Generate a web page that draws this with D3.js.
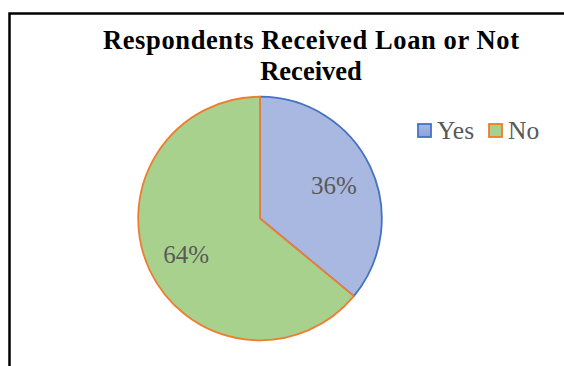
<!DOCTYPE html>
<html>
<head>
<meta charset="utf-8">
<script src="https://cdn.jsdelivr.net/npm/d3@7/dist/d3.min.js"></script>
<style>
  html, body { margin: 0; padding: 0; background: #fff; }
  svg { display: block; }
</style>
</head>
<body>
<script>
// Loan status of respondents
const categories = ["Yes", "No"];
const shares = [36, 64];
const fills = ["url(#yesGrad)", "#a9d18e"];
const strokes = ["#4472c4", "#ed7d31"];
const titleLines = ["Respondents Received Loan or Not", "Received"];

const W = 564, H = 366;
const serif = "'Liberation Serif', 'Times New Roman', serif";
const svg = d3.select("body").append("svg").attr("width", W).attr("height", H);

// gradient for the "Yes" slice
const defs = svg.append("defs");
const g1 = defs.append("linearGradient").attr("id", "yesGrad")
  .attr("gradientUnits", "userSpaceOnUse")
  .attr("x1", 0).attr("y1", 97).attr("x2", 0).attr("y2", 300);
g1.append("stop").attr("offset", "0%").attr("stop-color", "#a9b8e0");
g1.append("stop").attr("offset", "100%").attr("stop-color", "#8aa2d9");
const g2 = defs.append("linearGradient").attr("id", "yesGradLegend")
  .attr("x1", 0).attr("y1", 0).attr("x2", 0).attr("y2", 1);
g2.append("stop").attr("offset", "0%").attr("stop-color", "#a9b8e0");
g2.append("stop").attr("offset", "100%").attr("stop-color", "#8aa2d9");

// chart frame (extends past the right and bottom edges)
svg.append("rect")
  .attr("x", 9.5).attr("y", 13.5)
  .attr("width", 600).attr("height", 400)
  .attr("fill", "none").attr("stroke", "#000").attr("stroke-width", 2.5);

// title, two centred lines; the first is spread to the chart's title width
const titleX = 311;
const title = svg.append("g")
  .attr("font-family", serif)
  .attr("font-weight", "bold")
  .attr("font-size", 26.5)
  .attr("fill", "#000");
titleLines.forEach((t, i) => {
  const tx = title.append("text")
    .attr("x", titleX).attr("y", 49 + i * 31)
    .attr("text-anchor", "middle")
    .text(t);
  if (i === 0) tx.attr("textLength", 416).attr("lengthAdjust", "spacing");
});

// pie
const cx = 260, cy = 218.5, R = 121.8;
const pie = d3.pie().sort(null).value(d => d)(shares);
const arc = d3.arc().innerRadius(0).outerRadius(R);
const labelArc = d3.arc().innerRadius(R * 0.67).outerRadius(R * 0.67);

const gp = svg.append("g").attr("transform", `translate(${cx},${cy})`);
gp.selectAll("path.slice")
  .data(pie)
  .join("path")
  .attr("class", "slice")
  .attr("d", arc)
  .attr("fill", (d, i) => fills[i])
  .attr("stroke", (d, i) => strokes[i])
  .attr("stroke-width", 1.8)
  .attr("stroke-linejoin", "round");

gp.selectAll("text.lbl")
  .data(pie)
  .join("text")
  .attr("class", "lbl")
  .attr("transform", d => {
    const [x, y] = labelArc.centroid(d);
    return `translate(${x},${y})`;
  })
  .attr("text-anchor", "middle")
  .attr("dy", "0.4em")
  .attr("font-family", serif)
  .attr("font-size", 25)
  .attr("fill", "#595959")
  .text(d => d.data + "%");

// legend
const legendX = [418, 489];
const lg = svg.append("g");
categories.forEach((c, i) => {
  lg.append("rect")
    .attr("x", legendX[i]).attr("y", 124)
    .attr("width", 13).attr("height", 13)
    .attr("fill", i === 0 ? "url(#yesGradLegend)" : fills[i])
    .attr("stroke", strokes[i]).attr("stroke-width", 1.8);
  lg.append("text")
    .attr("x", legendX[i] + 19).attr("y", 139)
    .attr("font-family", serif)
    .attr("font-size", 25.5)
    .attr("fill", "#595959")
    .text(c);
});
</script>
</body>
</html>
